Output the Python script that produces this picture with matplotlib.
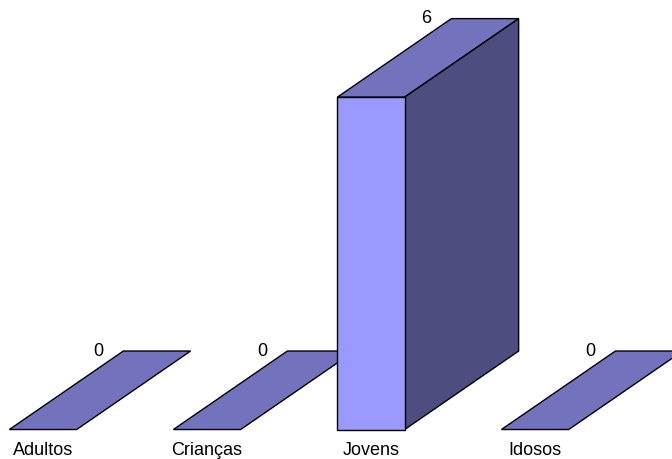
import matplotlib.pyplot as plt
from matplotlib.patches import Polygon

categories = ['Adultos', 'Crianças', 'Jovens', 'Idosos']
values = [0, 0, 6, 0]

front_color = '#9999FF'
top_color = '#7373BD'
side_color = '#4D4D80'

bar_w = 0.41      # width of the front face, in category units
depth_x = 0.695   # oblique depth, category units
depth_y = 1.417   # oblique depth, value units

plt.rcParams['font.family'] = ['Liberation Sans', 'DejaVu Sans']

fig = plt.figure(figsize=(6.72, 4.59), dpi=100)
ax = fig.add_axes([0, 0, 1, 1])
ax.set_xlim(-0.262, 3.835)
ax.set_ylim(-0.532, 7.753)
ax.axis('off')

for i, (cat, v) in enumerate(zip(categories, values)):
    x0 = i - bar_w / 2
    x1 = i + bar_w / 2
    # top face
    top = [(x0, v), (x1, v), (x1 + depth_x, v + depth_y), (x0 + depth_x, v + depth_y)]
    ax.add_patch(Polygon(top, closed=True, facecolor=top_color, edgecolor='black', lw=1))
    if v > 0:
        # right side face
        side = [(x1, 0), (x1 + depth_x, depth_y), (x1 + depth_x, v + depth_y), (x1, v)]
        ax.add_patch(Polygon(side, closed=True, facecolor=side_color, edgecolor='black', lw=1))
        # front face
        front = [(x0, 0), (x1, 0), (x1, v), (x0, v)]
        ax.add_patch(Polygon(front, closed=True, facecolor=front_color, edgecolor='black', lw=1))
    ax.text(i + 0.335, v + depth_y, str(v), ha='center', va='center', fontsize=13)
    ax.text(i, -0.37, cat, ha='center', va='center', fontsize=13)

fig.savefig('out.png', dpi=100)
